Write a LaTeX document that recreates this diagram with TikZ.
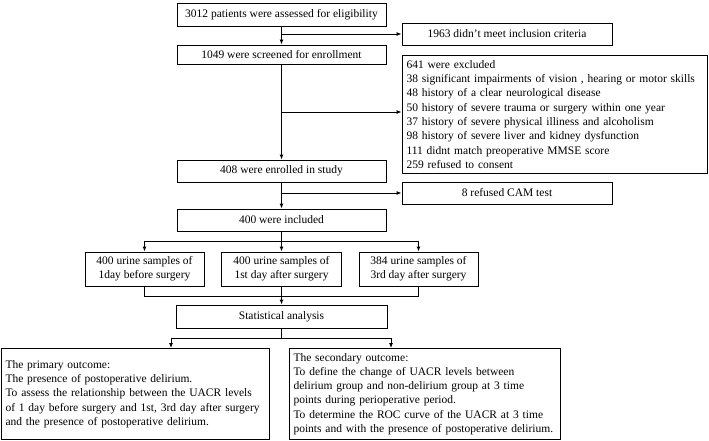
\documentclass[tikz,border=0pt]{standalone}
\usepackage{fontspec}
\setmainfont{Liberation Serif}
\usetikzlibrary{arrows.meta}
\begin{document}
\begin{tikzpicture}[x=1pt,y=-1pt,
  box/.style={draw, line width=0.9pt, inner sep=0pt, font=\fontsize{11.5}{14.3}\selectfont, align=center},
  lbox/.style={draw, line width=0.9pt, inner xsep=4.5pt, inner ysep=0pt, font=\fontsize{11.5}{14.3}\selectfont, align=left},
  conn/.style={line width=0.9pt},
  arr/.style={conn, -{Latex[length=5pt,width=4pt]}}]
\useasboundingbox (0,0) rectangle (709,441);

\node[box, minimum width=209pt, minimum height=23pt] (b1) at (281.5,14.5) {3012 patients were assessed for eligibility};
\node[box, minimum width=210pt, minimum height=22pt] (ex1) at (507,34) {1963 didn\char"0027 t meet inclusion criteria};
\node[box, minimum width=209pt, minimum height=19pt] (b2) at (281.5,54.5) {1049 were screened for enrollment};
\node[lbox, minimum width=305pt, minimum height=118pt, text width=296pt] (ex2) at (554.5,114.5) {641 were excluded\\
38 significant impairments of vision , hearing or motor skills\\
48 history of a clear neurological disease\\
50 history of severe trauma or surgery within one year\\
37 history of severe physical illiness and alcoholism\\
98 history of severe liver and kidney dysfunction\\
111 didnt match preoperative MMSE score\\
259 refused to consent};
\node[box, minimum width=209pt, minimum height=22pt] (b3) at (281.5,171) {408 were enrolled in study};
\node[box, minimum width=210pt, minimum height=22pt] (ex3) at (507,193) {8 refused CAM test};
\node[box, minimum width=209pt, minimum height=22pt] (b4) at (281.5,220) {400 were included};

\node[box, minimum width=119pt, minimum height=34pt] (u1) at (144.5,269) {400 urine samples of\\1day before surgery};
\node[box, minimum width=120pt, minimum height=34pt] (u2) at (281.5,269) {400 urine samples of\\1st day after surgery};
\node[box, minimum width=119pt, minimum height=34pt] (u3) at (418.5,269) {384 urine samples of\\3rd day after surgery};

\node[box, minimum width=211pt, minimum height=23pt] (st) at (281.5,316.5) {Statistical analysis};

\node[lbox, minimum width=268pt, minimum height=91pt, text width=259pt] (pr) at (135,394) {The primary outcome:\\
The presence of postoperative delirium.\\
To assess the relationship between the UACR levels\\
of 1 day before surgery and 1st, 3rd day after surgery\\
and the presence of postoperative delirium.};
\node[lbox, minimum width=271pt, minimum height=91pt, text width=262pt] (se) at (424.5,394) {The secondary outcome:\\
To define the change of UACR levels between\\
delirium group and non-delirium group at 3 time\\
points during perioperative period.\\
To determine the ROC curve of the UACR at 3 time\\
points and with the presence of postoperative delirium.};

% connectors
\draw[arr] (b1.south) -- (b2.north);
\draw[arr] (b1.south |- ex1.west) -- (ex1.west);
\coordinate (k2) at (281.5,112);
\draw[arr] (b2.south) -- (b3.north);
\draw[arr] (k2) -- (k2 -| ex2.west);
\draw[arr] (b3.south) -- (b4.north);
\draw[arr] (b3.south |- ex3.west) -- (ex3.west);

\coordinate (j1) at (281.5,241);
\draw[conn] (b4.south) -- (j1);
\draw[arr] (j1) -| (u1.north);
\draw[arr] (j1) -| (u3.north);
\draw[arr] (j1) -- (u2.north);

\coordinate (j2) at (281.5,296);
\draw[conn] (u1.south) |- (j2);
\draw[conn] (u3.south) |- (j2);
\draw[arr] (u2.south) -- (st.north);

\coordinate (j3) at (281.5,338);
\draw[conn] (st.south) -- (j3);
\draw[arr] (j3) -| ([xshift=36pt]pr.north);
\draw[arr] (j3) -| ([xshift=-33.5pt]se.north);
\end{tikzpicture}
\end{document}
